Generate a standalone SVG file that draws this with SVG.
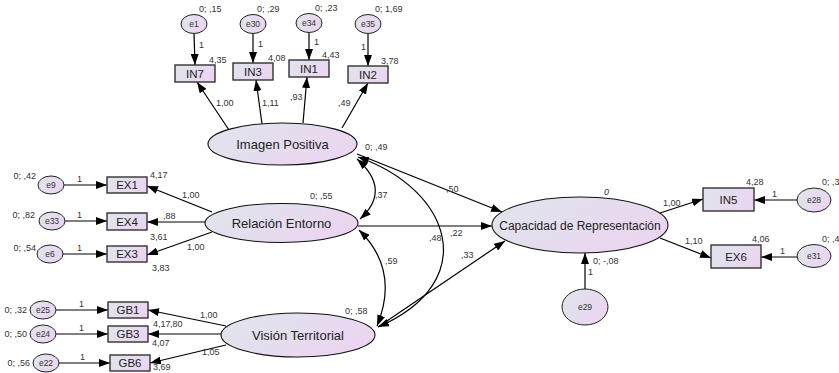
<svg xmlns="http://www.w3.org/2000/svg" width="839" height="373" viewBox="0 0 839 373">
<defs>
<linearGradient id="g" x1="0" y1="0.3" x2="1" y2="0.7">
<stop offset="0" stop-color="#e0e4ec"/>
<stop offset="1" stop-color="#ecd4f1"/>
</linearGradient>
<marker id="ah" viewBox="0 0 11 8" refX="11" refY="4" markerWidth="11" markerHeight="8" markerUnits="userSpaceOnUse" orient="auto-start-reverse">
<path d="M0,0 L11,4 L0,8 z" fill="#000"/>
</marker>
<style>
.lat{fill:url(#g);stroke:#111;stroke-width:1.1}
.err{fill:url(#g);stroke:#222;stroke-width:1}
.box{fill:url(#g);stroke:#333;stroke-width:1.4}
.c line,.c path{stroke:#000;stroke-width:1.2;fill:none;marker-end:url(#ah)}
.c .bi{marker-start:url(#ah)}
text{font-family:"Liberation Sans",Arial,sans-serif}
.lb{font-size:9px;fill:#333}
.bt{font-size:11.5px;fill:#222;text-anchor:middle}
.lt{font-size:13px;fill:#222;text-anchor:middle}
.et{font-size:8.5px;fill:#333;text-anchor:middle}
.en{text-anchor:end}
</style>
</defs>
<rect width="839" height="373" fill="#fff"/>

<g id="connectors" class="c">
<line x1="194" y1="33" x2="195" y2="65"/>
<line x1="253" y1="33" x2="253" y2="63"/>
<line x1="309" y1="32" x2="309" y2="60"/>
<line x1="368" y1="33" x2="368" y2="66"/>
<line x1="229" y1="130" x2="197" y2="82"/>
<line x1="262" y1="124" x2="256" y2="80"/>
<line x1="303" y1="123" x2="307" y2="77"/>
<line x1="342" y1="128" x2="368" y2="83"/>
<line x1="64" y1="185" x2="107" y2="185"/>
<line x1="65" y1="221" x2="107" y2="221"/>
<line x1="63" y1="254" x2="107" y2="254"/>
<line x1="212" y1="212" x2="147" y2="186"/>
<line x1="205" y1="222" x2="147" y2="222"/>
<line x1="212" y1="232" x2="147" y2="255"/>
<line x1="56" y1="310" x2="108" y2="310"/>
<line x1="56" y1="334" x2="108" y2="334"/>
<line x1="59" y1="363" x2="110" y2="363"/>
<line x1="226" y1="326" x2="148" y2="310"/>
<line x1="221" y1="334" x2="148" y2="334"/>
<line x1="226" y1="345" x2="150" y2="363"/>
<line x1="357" y1="154" x2="502" y2="212"/>
<line x1="358" y1="226" x2="492" y2="226"/>
<line x1="378" y1="327" x2="505" y2="241"/>
<line x1="660" y1="213" x2="703" y2="199"/>
<line x1="660" y1="238" x2="711" y2="258"/>
<line x1="797" y1="200" x2="754" y2="200"/>
<line x1="797" y1="257" x2="761" y2="257"/>
<line x1="585" y1="289" x2="585" y2="253"/>
<path class="bi" d="M357,159 Q392,190 360,219"/>
<path class="bi" d="M359,230 Q400,270 377,326"/>
<path class="bi" d="M358,157 C452,190 482,282 378,327"/>
</g>

<g id="e1"><ellipse class="err" cx="194" cy="24" rx="13" ry="9.5"/><text class="et" x="194" y="27">e1</text></g>
<g id="e30"><ellipse class="err" cx="253" cy="24" rx="13" ry="9.5"/><text class="et" x="253" y="27">e30</text></g>
<g id="e34"><ellipse class="err" cx="309" cy="23" rx="13" ry="9.5"/><text class="et" x="309" y="26">e34</text></g>
<g id="e35"><ellipse class="err" cx="368" cy="24" rx="13" ry="9.5"/><text class="et" x="368" y="27">e35</text></g>

<g id="IN7"><rect class="box" x="175" y="65" width="40" height="17"/><text class="bt" x="195" y="77.5">IN7</text></g>
<g id="IN3"><rect class="box" x="233" y="63" width="40" height="17"/><text class="bt" x="253" y="75.5">IN3</text></g>
<g id="IN1"><rect class="box" x="289" y="60" width="40" height="17"/><text class="bt" x="309" y="72.5">IN1</text></g>
<g id="IN2"><rect class="box" x="348" y="66" width="40" height="17"/><text class="bt" x="368" y="78.5">IN2</text></g>

<g id="ImagenPositiva"><ellipse class="lat" cx="282.5" cy="144" rx="74.5" ry="21"/><text class="lt" x="282.5" y="148.5">Imagen Positiva</text></g>
<g id="RelacionEntorno"><ellipse class="lat" cx="281.5" cy="223" rx="76.5" ry="19.5"/><text class="lt" x="281.5" y="227.5">Relación Entorno</text></g>
<g id="VisionTerritorial"><ellipse class="lat" cx="298" cy="335" rx="77" ry="22"/><text class="lt" x="298" y="339.5">Visión Territorial</text></g>
<g id="Capacidad"><ellipse class="lat" cx="580" cy="225" rx="88" ry="28"/><text class="lt" x="580" y="229.5" style="font-size:12px">Capacidad de Representación</text></g>

<g id="e9"><ellipse class="err" cx="51" cy="185" rx="13" ry="9"/><text class="et" x="51" y="188">e9</text></g>
<g id="e33"><ellipse class="err" cx="52" cy="221" rx="13" ry="9"/><text class="et" x="52" y="224">e33</text></g>
<g id="e6"><ellipse class="err" cx="50" cy="254" rx="13" ry="9"/><text class="et" x="50" y="257">e6</text></g>
<g id="EX1"><rect class="box" x="107" y="177" width="40" height="16"/><text class="bt" x="127" y="189">EX1</text></g>
<g id="EX4"><rect class="box" x="107" y="213" width="40" height="17"/><text class="bt" x="127" y="225.5">EX4</text></g>
<g id="EX3"><rect class="box" x="107" y="246" width="40" height="16"/><text class="bt" x="127" y="258">EX3</text></g>

<g id="e25"><ellipse class="err" cx="43" cy="310" rx="13" ry="9"/><text class="et" x="43" y="313">e25</text></g>
<g id="e24"><ellipse class="err" cx="43" cy="334" rx="13" ry="9"/><text class="et" x="43" y="337">e24</text></g>
<g id="e22"><ellipse class="err" cx="46" cy="363" rx="13" ry="9"/><text class="et" x="46" y="366">e22</text></g>
<g id="GB1"><rect class="box" x="108" y="302" width="40" height="16"/><text class="bt" x="128" y="314">GB1</text></g>
<g id="GB3"><rect class="box" x="108" y="326" width="40" height="16"/><text class="bt" x="128" y="338">GB3</text></g>
<g id="GB6"><rect class="box" x="110" y="355" width="40" height="16"/><text class="bt" x="130" y="367">GB6</text></g>

<g id="IN5"><rect class="box" x="703" y="188" width="51" height="23"/><text class="bt" x="728.5" y="203.5">IN5</text></g>
<g id="EX6"><rect class="box" x="711" y="245" width="50" height="23"/><text class="bt" x="736" y="260.5">EX6</text></g>
<g id="e28"><ellipse class="err" cx="814" cy="200" rx="17" ry="12"/><text class="et" x="814" y="203">e28</text></g>
<g id="e31"><ellipse class="err" cx="814" cy="256" rx="17" ry="11.5"/><text class="et" x="814" y="259">e31</text></g>
<g id="e29"><ellipse class="err" cx="585" cy="307" rx="23" ry="18"/><text class="et" x="585" y="310">e29</text></g>

<g id="labels" class="lb">
<text class="lb" x="199" y="12">0; ,15</text>
<text class="lb" x="257" y="12">0; ,29</text>
<text class="lb" x="315" y="11">0; ,23</text>
<text class="lb" x="375" y="12">0; 1,69</text>
<text class="lb" x="199" y="48">1</text>
<text class="lb" x="258" y="47">1</text>
<text class="lb" x="314" y="45">1</text>
<text class="lb" x="361" y="50">1</text>
<text class="lb" x="209" y="63">4,35</text>
<text class="lb" x="268" y="61">4,08</text>
<text class="lb" x="322" y="58">4,43</text>
<text class="lb" x="381" y="64">3,78</text>
<text class="lb" x="216" y="106">1,00</text>
<text class="lb" x="262" y="106">1,11</text>
<text class="lb" x="290" y="100">,93</text>
<text class="lb" x="338" y="106">,49</text>
<text class="lb" x="365" y="150">0; ,49</text>
<text class="lb en" x="36" y="179">0; ,42</text>
<text class="lb en" x="35" y="218">0; ,82</text>
<text class="lb en" x="36" y="251">0; ,54</text>
<text class="lb" x="77" y="182">1</text>
<text class="lb" x="77" y="218">1</text>
<text class="lb" x="77" y="251">1</text>
<text class="lb" x="150" y="178">4,17</text>
<text class="lb" x="182" y="198">1,00</text>
<text class="lb" x="163" y="219">,88</text>
<text class="lb" x="150" y="240">3,61</text>
<text class="lb" x="187" y="250">1,00</text>
<text class="lb" x="152" y="271">3,83</text>
<text class="lb" x="310" y="199">0; ,55</text>
<text class="lb" x="375" y="198">,37</text>
<text class="lb" x="446" y="192">,50</text>
<text class="lb" x="450" y="236">,22</text>
<text class="lb" x="429" y="241">,48</text>
<text class="lb" x="385" y="264">,59</text>
<text class="lb" x="461" y="258">,33</text>
<text class="lb en" x="27" y="313">0; ,32</text>
<text class="lb en" x="27" y="337">0; ,50</text>
<text class="lb en" x="30" y="366">0; ,56</text>
<text class="lb" x="79" y="307">1</text>
<text class="lb" x="79" y="331">1</text>
<text class="lb" x="80" y="360">1</text>
<text class="lb" x="200" y="318">1,00</text>
<text class="lb" x="153" y="327">4,17</text>
<text class="lb" x="170" y="327">,80</text>
<text class="lb" x="152" y="346">4,07</text>
<text class="lb" x="202" y="355">1,05</text>
<text class="lb" x="153" y="370">3,69</text>
<text class="lb" x="345" y="314">0; ,58</text>
<text class="lb" x="604" y="195" style="font-style:italic">0</text>
<text class="lb" x="663" y="206">1,00</text>
<text class="lb" x="685" y="244">1,10</text>
<text class="lb" x="746" y="185">4,28</text>
<text class="lb" x="752" y="242">4,06</text>
<text class="lb" x="822" y="185">0; ,3</text>
<text class="lb" x="822" y="242">0; ,4</text>
<text class="lb" x="772" y="197">1</text>
<text class="lb" x="780" y="254">1</text>
<text class="lb" x="588" y="275">1</text>
<text class="lb" x="593" y="264">0; -,08</text>
</g>
</svg>
